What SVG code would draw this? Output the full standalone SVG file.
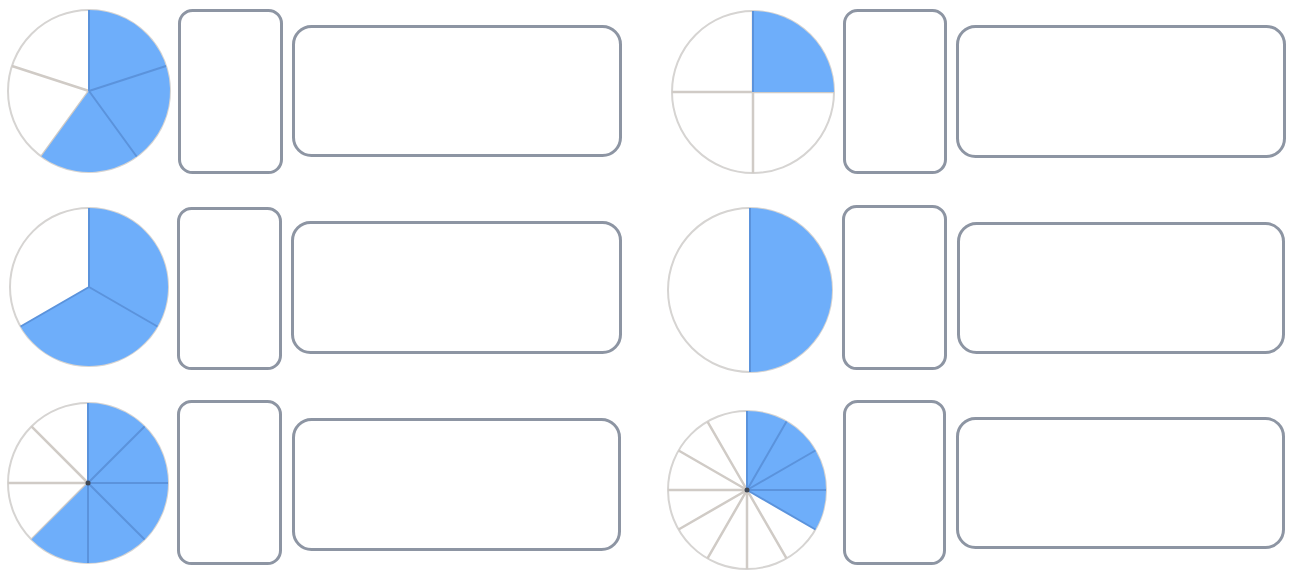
<svg xmlns="http://www.w3.org/2000/svg" width="1291" height="570" viewBox="0 0 1291 570">
<style>
.bg{fill:#ffffff}
.rim{fill:#ffffff;stroke:#d6d4d2;stroke-width:2}
.spoke{stroke:#d0cbc6;stroke-width:2.5;stroke-linecap:butt;fill:none}
.part{fill:#6eaefa;stroke:none}
.bspoke{stroke:#5b93dc;stroke-width:2;fill:none}
.hub{fill:#404854}
.box{fill:#ffffff;stroke:#8d95a3;stroke-width:3}
</style>
<rect class="bg" x="0" y="0" width="1291" height="570"/>

<g id="pie1">
<circle class="rim" cx="89" cy="91" r="81"/>
<path class="spoke" d="M89,91 L41.39,156.53 M89,91 L11.96,65.97"/>
<path class="part" d="M89,91 L89,10 A81,81 0 1 1 41.39,156.53 Z"/>
<path class="bspoke" d="M89,91 L89,10 M89,91 L166.04,65.97 M89,91 L136.61,156.53"/>
</g>
<g id="box1a"><rect class="box" x="179.5" y="10.5" width="102" height="162" rx="13"/></g>
<g id="box1b"><rect class="box" x="293.5" y="26.5" width="327" height="129" rx="18"/></g>

<g id="pie2">
<circle class="rim" cx="753" cy="92" r="81"/>
<path class="spoke" d="M753,11 L753,173 M672,92 L834,92"/>
<path class="part" d="M753,92 L753,11 A81,81 0 0 1 834,92 Z"/>
<path class="bspoke" d="M753,92 L753,11"/>
</g>
<g id="box2a"><rect class="box" x="844.5" y="10.5" width="101" height="162" rx="13"/></g>
<g id="box2b"><rect class="box" x="957.5" y="26.5" width="327" height="130" rx="18"/></g>

<g id="pie3">
<circle class="rim" cx="89" cy="287" r="79"/>
<path class="part" d="M89,287 L89,208 A79,79 0 1 1 20.58,326.5 Z"/>
<path class="bspoke" d="M89,287 L89,208 M89,287 L157.42,326.5 M89,287 L20.58,326.5"/>
</g>
<g id="box3a"><rect class="box" x="178.5" y="208.5" width="102" height="160" rx="13"/></g>
<g id="box3b"><rect class="box" x="292.5" y="222.5" width="328" height="130" rx="18"/></g>

<g id="pie4">
<circle class="rim" cx="750" cy="290" r="82"/>
<path class="part" d="M750,290 L750,208 A82,82 0 0 1 750,372 Z"/>
<path class="bspoke" d="M750,208 L750,372"/>
</g>
<g id="box4a"><rect class="box" x="843.5" y="206.5" width="102" height="162" rx="13"/></g>
<g id="box4b"><rect class="box" x="958.5" y="223.5" width="325" height="129" rx="18"/></g>

<g id="pie5">
<circle class="rim" cx="88" cy="483" r="80"/>
<path class="spoke" d="M88,483 L8,483 M88,483 L31.43,426.43 M88,483 L31.43,539.57"/>
<path class="part" d="M88,483 L88,403 A80,80 0 1 1 31.43,539.57 Z"/>
<path class="bspoke" d="M88,483 L88,403 M88,483 L144.57,426.43 M88,483 L168,483 M88,483 L144.57,539.57 M88,483 L88,563"/>
<circle class="hub" cx="88" cy="483" r="2.5"/>
</g>
<g id="box5a"><rect class="box" x="178.5" y="401.5" width="102" height="162" rx="13"/></g>
<g id="box5b"><rect class="box" x="293.5" y="419.5" width="326" height="130" rx="18"/></g>

<g id="pie6">
<circle class="rim" cx="747" cy="490" r="79"/>
<path class="spoke" d="M747,490 L786.5,558.42 M747,490 L747,569 M747,490 L707.5,558.42 M747,490 L678.58,529.5 M747,490 L668,490 M747,490 L678.58,450.5 M747,490 L707.5,421.58"/>
<path class="part" d="M747,490 L747,411 A79,79 0 0 1 815.42,529.5 Z"/>
<path class="bspoke" d="M747,490 L747,411 M747,490 L786.5,421.58 M747,490 L815.42,450.5 M747,490 L826,490 M747,490 L815.42,529.5"/>
<circle class="hub" cx="747" cy="490" r="2.5"/>
</g>
<g id="box6a"><rect class="box" x="844.5" y="401.5" width="100" height="162" rx="13"/></g>
<g id="box6b"><rect class="box" x="957.5" y="418.5" width="326" height="129" rx="18"/></g>

<g id="connectors"></g>
</svg>
